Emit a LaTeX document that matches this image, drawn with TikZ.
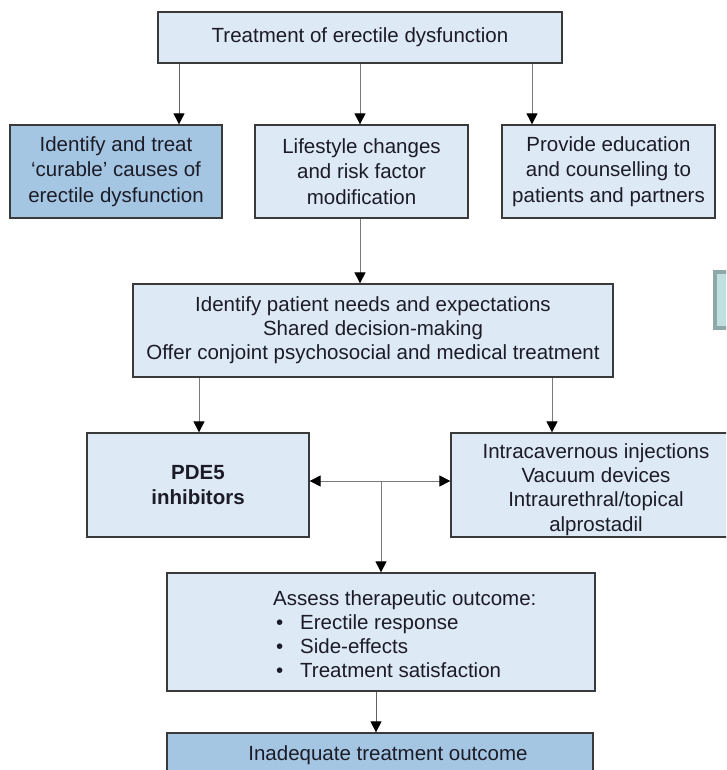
\documentclass[tikz,border=0pt]{standalone}
\usepackage{fontspec}
\setmainfont{Liberation Sans}
\usetikzlibrary{arrows.meta}
\definecolor{lightfill}{HTML}{DDE9F4}
\definecolor{darkfill}{HTML}{A5C6E2}
\definecolor{bordercol}{HTML}{3A3A3A}
\definecolor{linecol}{HTML}{7A7A7A}
\definecolor{txtcol}{HTML}{1C1C28}
\definecolor{oddfill}{HTML}{BFE0E0}
\definecolor{oddborder}{HTML}{8EA7A8}
\tikzset{
  every node/.style={font=\fontsize{20.5}{24}\selectfont, text=txtcol},
  boxstyle/.style={draw=bordercol, line width=1.3pt, fill=lightfill, inner sep=0pt, align=center},
  darkbox/.style={boxstyle, fill=darkfill},
  conn/.style={draw=linecol, line width=1pt, -{Triangle[width=11pt,length=11pt,color=black]}},
  rowthree/.style={font=\fontsize{20.5}{25.5}\selectfont}
}
\begin{document}
\begin{tikzpicture}[x=1pt,y=-1pt]
\clip (0,0) rectangle (726,770);
\useasboundingbox (0,0) rectangle (726,770);
\fill[white] (0,0) rectangle (726,770);

% boxes
\node[boxstyle, minimum width=404pt, minimum height=51pt] (top) at (360,37.5) {Treatment of erectile dysfunction};
\node[darkbox, rowthree, minimum width=212pt, minimum height=93pt] (l1) at (116,171.5) {Identify and treat\\‘curable’ causes of\\erectile dysfunction};
\node[boxstyle, rowthree, minimum width=213pt, minimum height=93pt] (m1) at (361.5,171.5) {Lifestyle changes\\and risk factor\\modification};
\node[boxstyle, rowthree, minimum width=213pt, minimum height=93pt] (r1) at (608.5,171.5) {Provide education\\and counselling to\\patients and partners};
\node[boxstyle, minimum width=480pt, minimum height=93pt] (mid) at (373,330.5) {Identify patient needs and expectations\\Shared decision-making\\Offer conjoint psychosocial and medical treatment};
\node[boxstyle, minimum width=222pt, minimum height=104pt, font=\fontsize{20.5}{25}\selectfont\bfseries] (pde) at (198,485) {PDE5\\inhibitors};
\node[boxstyle, minimum width=290pt, minimum height=104pt] (rt) at (596,485) {};
\node (rttxt) at (596,489.5) [align=center, font=\fontsize{20.5}{24.3}\selectfont] {Intracavernous injections\\Vacuum devices\\Intraurethral/topical\\alprostadil};
\node[boxstyle, minimum width=428pt, minimum height=118pt] (assess) at (381,632) {};
\node[anchor=west, align=left, inner sep=0pt] (assesstxt) at (273,634) {Assess therapeutic outcome:\\\makebox[27pt][l]{\hspace{3pt}•}Erectile response\\\makebox[27pt][l]{\hspace{3pt}•}Side-effects\\\makebox[27pt][l]{\hspace{3pt}•}Treatment satisfaction};
\node[darkbox, minimum width=426pt, minimum height=46pt] (bot) at (380,756) {};
\node (bottxt) at (388,755) {Inadequate treatment outcome};
\draw[draw=oddborder, fill=oddfill, line width=4pt] (715,272) rectangle (745,328);

% connector columns
\coordinate (xa) at (179,0);
\coordinate (xb) at (360,0);
\coordinate (xc) at (532,0);
\coordinate (xd) at (199,0);
\coordinate (xe) at (552,0);
\coordinate (xf) at (376,0);
\coordinate (j) at (381,481);

\draw[conn, draw=bordercol!80] (top.south -| xa) -- (l1.north -| xa);
\draw[conn] (top.south -| xb) -- (m1.north -| xb);
\draw[conn] (top.south -| xc) -- (r1.north -| xc);
\draw[conn] (m1.south -| xb) -- (mid.north -| xb);
\draw[conn] (mid.south -| xd) -- (pde.north -| xd);
\draw[conn] (mid.south -| xe) -- (rt.north -| xe);
\draw[conn] (j) -- (pde.east |- j);
\draw[conn] (j) -- (rt.west |- j);
\draw[conn] (j) -- (assess.north -| j);
\draw[conn, draw=bordercol!80] (assess.south -| xf) -- (bot.north -| xf);
\end{tikzpicture}
\end{document}
